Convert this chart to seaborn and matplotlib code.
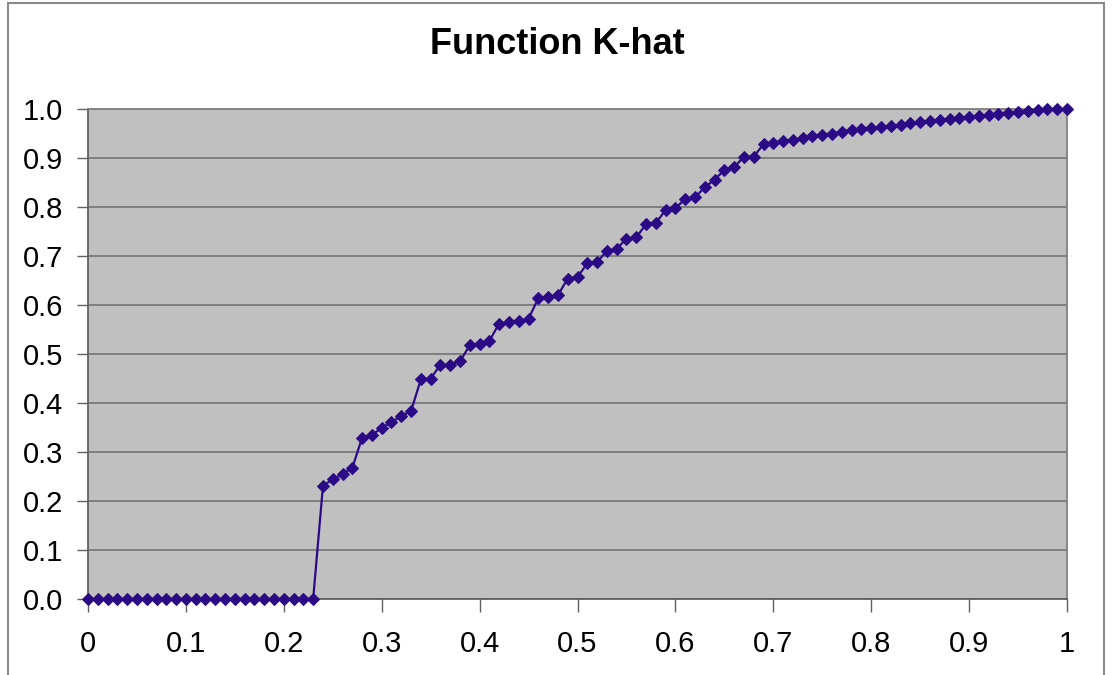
import matplotlib
matplotlib.use("Agg")
import matplotlib.pyplot as plt
import matplotlib.patches as mpatches
import seaborn as sns
import pandas as pd

# Data
x_values = [round(i * 0.01, 2) for i in range(101)]
k_hat = [
    0.0, 0.0, 0.0, 0.0, 0.0, 0.0, 0.0, 0.0, 0.0, 0.0,          # 0.00-0.09
    0.0, 0.0, 0.0, 0.0, 0.0, 0.0, 0.0, 0.0, 0.0, 0.0,          # 0.10-0.19
    0.0, 0.0, 0.0, 0.0, 0.231, 0.244, 0.255, 0.268, 0.329, 0.335,  # 0.20-0.29
    0.349, 0.361, 0.373, 0.384, 0.448, 0.450, 0.478, 0.478, 0.485, 0.518,  # 0.30-0.39
    0.520, 0.527, 0.562, 0.565, 0.567, 0.572, 0.614, 0.617, 0.620, 0.654,  # 0.40-0.49
    0.657, 0.685, 0.688, 0.710, 0.715, 0.735, 0.738, 0.765, 0.767, 0.794,  # 0.50-0.59
    0.797, 0.817, 0.820, 0.840, 0.856, 0.875, 0.881, 0.903, 0.903, 0.928,  # 0.60-0.69
    0.931, 0.935, 0.937, 0.940, 0.944, 0.947, 0.950, 0.954, 0.957, 0.959,  # 0.70-0.79
    0.961, 0.963, 0.965, 0.968, 0.971, 0.974, 0.976, 0.978, 0.979, 0.981,  # 0.80-0.89
    0.984, 0.986, 0.988, 0.989, 0.991, 0.994, 0.996, 0.997, 0.999, 1.0,    # 0.90-0.99
    1.0,                                                          # 1.00
]
x_ticks = [0, 0.1, 0.2, 0.3, 0.4, 0.5, 0.6, 0.7, 0.8, 0.9, 1]
x_tick_labels = ["0", "0.1", "0.2", "0.3", "0.4", "0.5", "0.6", "0.7", "0.8", "0.9", "1"]
y_ticks = [0.0, 0.1, 0.2, 0.3, 0.4, 0.5, 0.6, 0.7, 0.8, 0.9, 1.0]
y_tick_labels = ["0.0", "0.1", "0.2", "0.3", "0.4", "0.5", "0.6", "0.7", "0.8", "0.9", "1.0"]
title = "Function K-hat"

df = pd.DataFrame({"x": x_values, "k": k_hat})

sns.set_style("white")
plt.rcParams["font.family"] = ["Liberation Sans", "DejaVu Sans"]
plt.rcParams["text.color"] = "black"
plt.rcParams["xtick.color"] = "black"
plt.rcParams["ytick.color"] = "black"

fig = plt.figure(figsize=(11.14, 6.75), dpi=100)
ax = fig.add_axes([88 / 1114, 76 / 675, (1067 - 88) / 1114, (599 - 109) / 675])
ax.set_facecolor("#C0C0C0")

line_color = "#2B0A86"
sns.lineplot(data=df, x="x", y="k", ax=ax, color=line_color, linewidth=1.6,
             marker="D", markersize=6.5, markeredgecolor=line_color,
             markerfacecolor=line_color, clip_on=False, zorder=3)

ax.set_xlim(0, 1)
ax.set_ylim(0, 1)
ax.set_xticks(x_ticks)
ax.set_xticklabels(x_tick_labels, fontsize=21, color="black")
ax.set_yticks(y_ticks)
ax.set_yticklabels(y_tick_labels, fontsize=21, color="black")
ax.set_xlabel("")
ax.set_ylabel("")
ax.grid(axis="y", color="#7a7a7a", linewidth=1.3)
ax.grid(axis="x", visible=False)
ax.set_axisbelow(True)
ax.tick_params(axis="x", direction="out", length=9, width=1, color="#606060", pad=13)
ax.tick_params(axis="y", direction="out", length=8, width=1, color="#606060", pad=10)
ax.tick_params(bottom=True, left=True)
for side in ["left", "bottom", "top", "right"]:
    ax.spines[side].set_visible(True)
    ax.spines[side].set_color("#808080")
    ax.spines[side].set_linewidth(1.3)
ax.spines["left"].set_color("#606060")
ax.spines["bottom"].set_color("#606060")

fig.text(557 / 1114, 1 - 44 / 675, title, ha="center", va="center",
         fontsize=26, fontweight="bold", color="black")

# Outer chart-area border (bottom cropped off as in reference)
border = mpatches.Rectangle((8 / 1114, -0.05), (1104 - 8) / 1114, 1.05 - 3 / 675,
                            transform=fig.transFigure, fill=False,
                            edgecolor="#8a8a8a", linewidth=1.5, clip_on=False)
fig.patches.append(border)

fig.savefig("out.png", dpi=100)
